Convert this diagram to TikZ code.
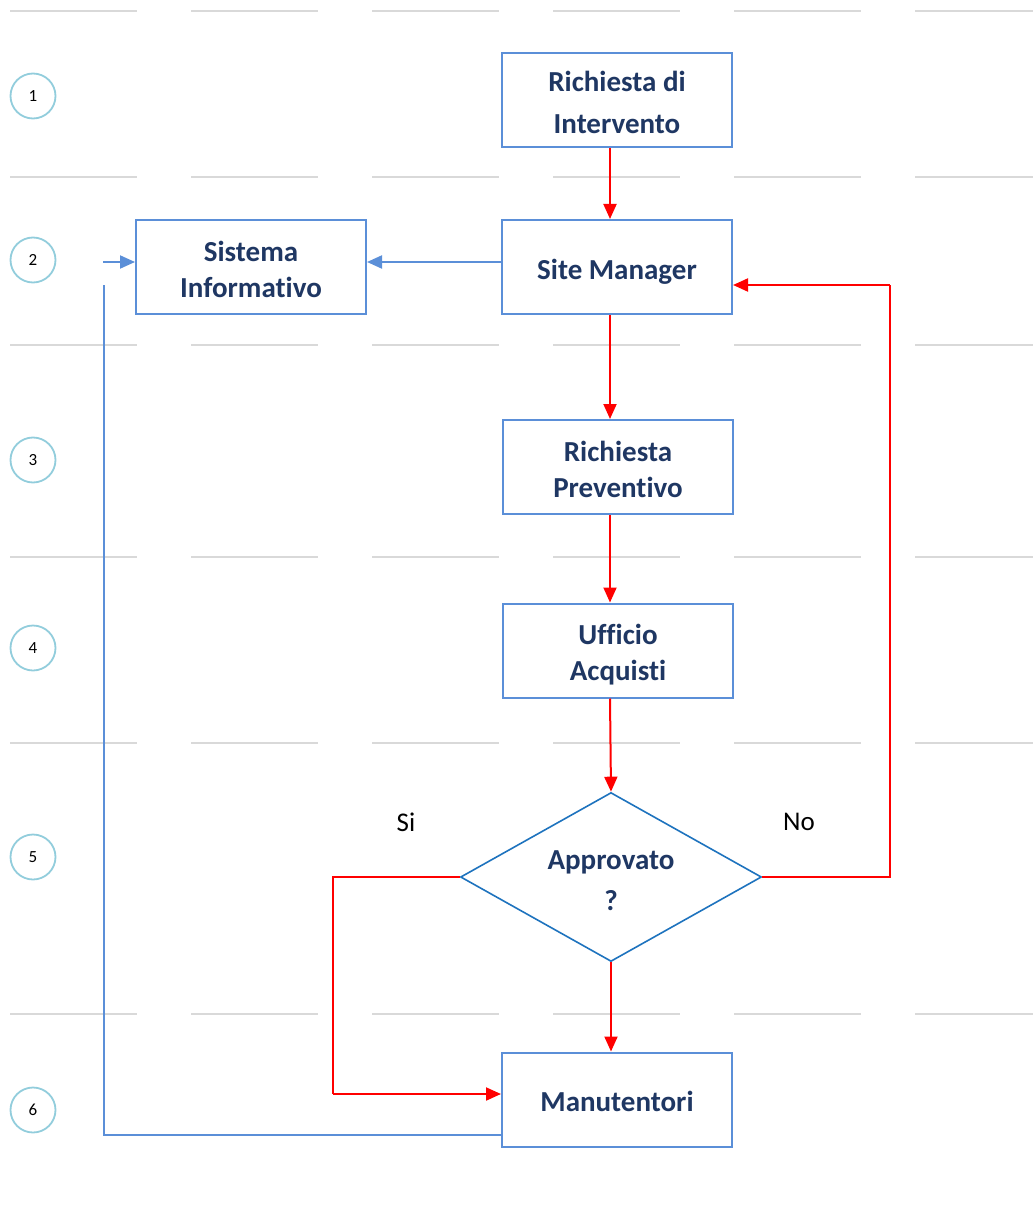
\documentclass[tikz,border=0pt]{standalone}
\usepackage{fontspec}
\setmainfont{Carlito}[Ligatures=NoCommon]
\usetikzlibrary{arrows.meta,shapes.geometric,calc}
\definecolor{boxblue}{HTML}{5B8FD8}
\definecolor{diablue}{HTML}{1E73BE}
\definecolor{navy}{HTML}{1F3763}
\definecolor{gridgray}{HTML}{D9D9D9}
\definecolor{ringteal}{HTML}{92CDDC}
\definecolor{flowred}{HTML}{FF0000}
% fixed line metrics: strut height on the first line, strut depth on the last
\newcommand{\topstrut}[1]{\rule{0pt}{#1}}
\newcommand{\botstrut}[1]{\rule[-#1]{0pt}{#1}}
\newcommand{\twolines}[2]{\topstrut{30pt}#1\\#2\botstrut{6pt}}
\tikzset{
  x=1pt, y=-1pt,
  stepbox/.style={draw=boxblue, line width=2pt, fill=white, minimum width=230pt,
    minimum height=94pt, inner sep=0pt, align=center, text=navy,
    font=\bfseries\fontsize{29}{36}\selectfont},
  tallbox/.style={stepbox, font=\bfseries\fontsize{29}{42}\selectfont},
  decision/.style={diamond, draw=diablue, line width=1.6pt, fill=white, inner sep=0pt,
    minimum width=301pt, minimum height=169pt, aspect=1.78, align=center, text=navy,
    font=\bfseries\fontsize{29}{41}\selectfont},
  rowline/.style={draw=gridgray, line width=2pt, dash pattern=on 127pt off 54pt},
  rownum/.style={circle, draw=ringteal, line width=1.8pt, minimum size=45pt, inner sep=0pt,
    font=\fontsize{17}{17}\selectfont},
  redflow/.style={draw=flowred, line width=2pt, -{Triangle[length=15pt,width=13pt]}},
  redline/.style={draw=flowred, line width=2pt},
  blueflow/.style={draw=boxblue, line width=2pt, -{Triangle[length=15pt,width=13pt]}},
  blueline/.style={draw=boxblue, line width=2pt},
  answer/.style={font=\fontsize{27}{27}\selectfont, text=black},
}
\begin{document}
\begin{tikzpicture}
\useasboundingbox (0,0) rectangle (1033,1206);

% row separators
\foreach \yy in {11,177,345,557,743,1014}
  \draw[rowline] (10,\yy) -- (1033,\yy);

% row numbers
\node[rownum] (n1) at (33,96) {1};
\node[rownum] (n2) at (33,260) {2};
\node[rownum] (n3) at (33,460) {3};
\node[rownum] (n4) at (33,648) {4};
\node[rownum] (n5) at (33,857) {5};
\node[rownum] (n6) at (33,1110) {6};

% process steps
\node[tallbox] (ri) at (617,100) {\topstrut{34pt}Richiesta di\\Intervento\botstrut{8pt}};
\node[stepbox] (sm) at (617,267) {\topstrut{30pt}Site Manager\botstrut{6pt}};
\node[stepbox] (sys) at (251,267) {\twolines{Sistema}{Informativo}};
\node[stepbox] (rp) at (618,467) {\twolines{Richiesta}{Preventivo}};
\node[stepbox] (ua) at (618,650.5) {\twolines{Ufficio}{Acquisti}};
\node[decision] (d) at (611,877) {\topstrut{33pt}Approvato\\?\botstrut{8pt}};
\node[stepbox] (man) at (617,1099.5) {\topstrut{30pt}Manutentori\botstrut{6pt}};

\node[answer] (si) at (406,822) {Si};
\node[answer] (no) at (799,822) {No};

% turning points of the routed connectors
\coordinate (siturn) at (333,1094);
\coordinate (noturn) at (890,285);
\coordinate (fbturn) at (104,285);
\coordinate (fbin) at (103,262);

% main flow
\draw[redflow] ([xshift=-7pt]ri.south) -- ([xshift=-7pt]sm.north);
\draw[redflow] ([xshift=-7pt]sm.south) -- ([xshift=-8pt]rp.north);
\draw[redflow] ([xshift=-8pt]rp.south) -- ([xshift=-8pt]ua.north);
\draw[redflow] ([xshift=-8pt]ua.south) -- (d.north);
\draw[redflow] (d.south) -- ([xshift=-6pt]man.north);

% decision branches
\draw[redline] (d.west) -| (siturn);
\draw[redflow] (siturn) -- (siturn -| man.west);
\draw[redline] (d.east) -| (noturn);
\draw[redflow] (noturn) -- (noturn -| sm.east);

% information system links
\draw[blueflow] (sm.west |- fbin) -- (sys.east |- fbin);
\draw[blueline] ([yshift=-35.5pt]man.west) -| (fbturn);
\draw[blueflow] (fbin) -- (fbin -| sys.west);
\end{tikzpicture}
\end{document}
